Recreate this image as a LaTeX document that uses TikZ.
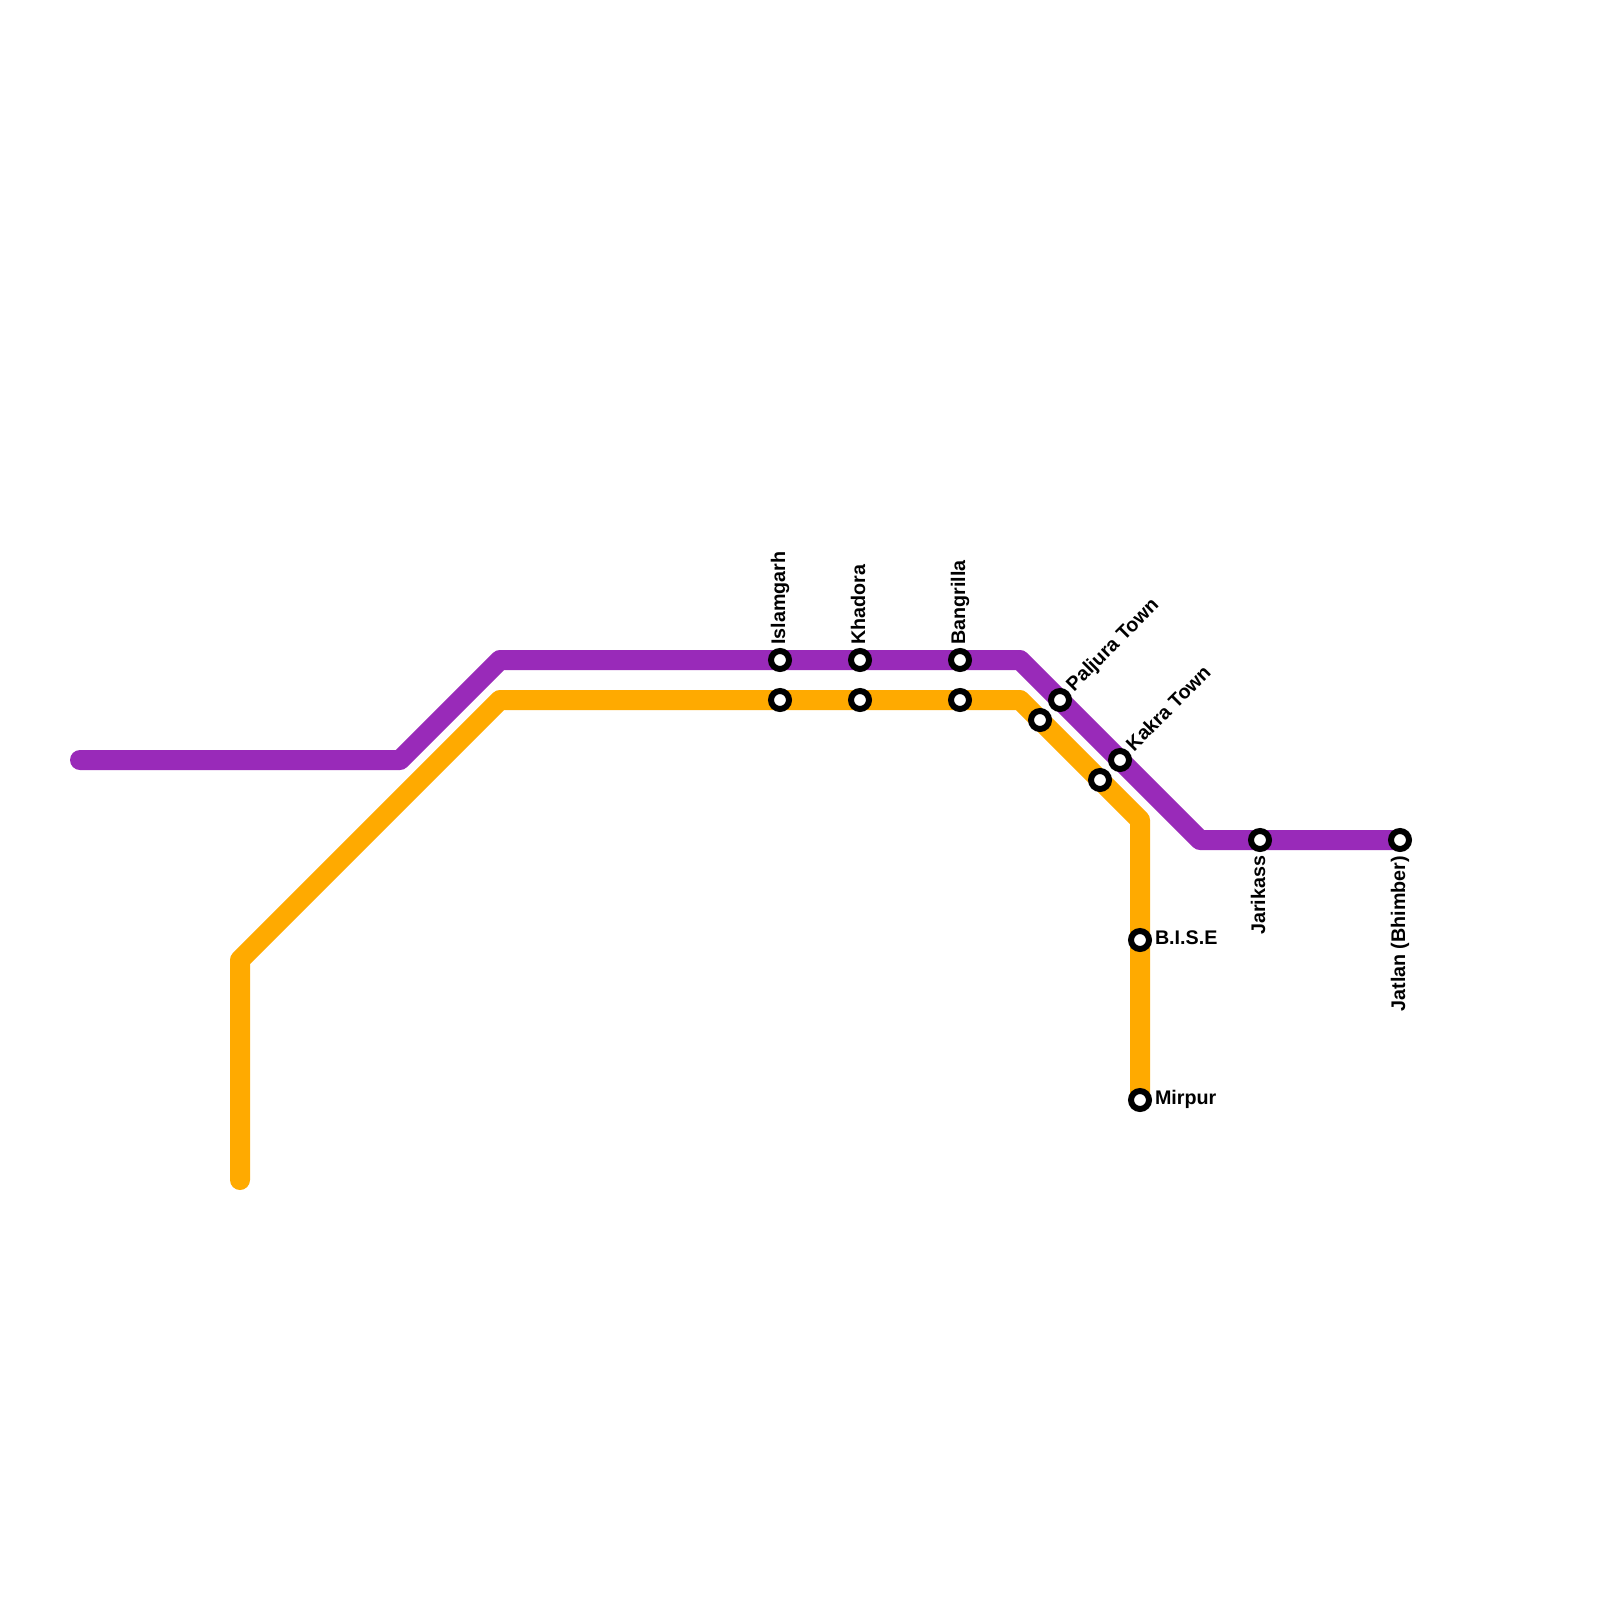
\documentclass[tikz,border=0pt]{standalone}
\usepackage{fontspec}
\setmainfont{Liberation Sans}
\definecolor{linepurple}{HTML}{992AB9}
\definecolor{lineorange}{HTML}{FFAA00}
\tikzset{
  x=1pt,y=-1pt,
  metroline/.style={line width=20pt,line cap=round,line join=round},
  stn/.style={circle,draw=black,fill=white,line width=6pt,minimum size=18pt,inner sep=0pt,outer sep=0pt},
  lbl/.style={font=\bfseries\fontsize{19.7}{22}\selectfont,inner sep=0pt,outer sep=0pt,text=black},
}
\begin{document}
\begin{tikzpicture}
\useasboundingbox[fill=white] (0,0) rectangle (1600,1600);
\coordinate (p0) at (80,760);
\coordinate (p1) at (400,760);
\coordinate (p2) at (500,660);
\coordinate (p3) at (1020,660);
\coordinate (p4) at (1200,840);
\coordinate (o0) at (240,1180);
\coordinate (o1) at (240,960);
\coordinate (o2) at (500,700);
\coordinate (o3) at (1020,700);
\coordinate (o4) at (1140,820);
\coordinate (sJatlanC) at (1400,840);
\coordinate (sMirpurC) at (1140,1100);
\draw[metroline,lineorange] (o0) -- (o1) -- (o2) -- (o3) -- (o4) -- (sMirpurC);
\draw[metroline,linepurple] (p0) -- (p1) -- (p2) -- (p3) -- (p4) -- (sJatlanC);
\node[stn] (a1) at (780,660) {};
\node[stn] (a2) at (860,660) {};
\node[stn] (a3) at (960,660) {};
\node[stn] (a4) at (1060,700) {};
\node[stn] (a5) at (1120,760) {};
\node[stn] (a6) at (1260,840) {};
\node[stn] (a7) at (1400,840) {};
\node[stn] (b1) at (780,700) {};
\node[stn] (b2) at (860,700) {};
\node[stn] (b3) at (960,700) {};
\node[stn] (b4) at (1040,720) {};
\node[stn] (b5) at (1100,780) {};
\node[stn] (b6) at (1140,940) {};
\node[stn] (b7) at (1140,1100) {};
\node[lbl,rotate=90,anchor=base west] (l1) at (785,644.5) {Islamgarh};
\node[lbl,rotate=90,anchor=base west] (l2) at (865,644.5) {Khadora};
\node[lbl,rotate=90,anchor=base west] (l3) at (965,644.5) {Bangrilla};
\node[lbl,rotate=45,anchor=base west] (l4) at (1074,692) {Paljura Town};
\node[lbl,rotate=45,anchor=base west] (l5) at (1134,752) {Kakra Town};
\node[lbl,rotate=90,anchor=base east] (l6) at (1265,856) {Jarikass};
\node[lbl,rotate=90,anchor=base east] (l7) at (1405,856) {Jatlan (Bhimber)};
\node[lbl,anchor=base west] (l8) at (1155,944.5) {B.I.S.E};
\node[lbl,anchor=base west] (l9) at (1155,1104.5) {Mirpur};
\end{tikzpicture}
\end{document}
